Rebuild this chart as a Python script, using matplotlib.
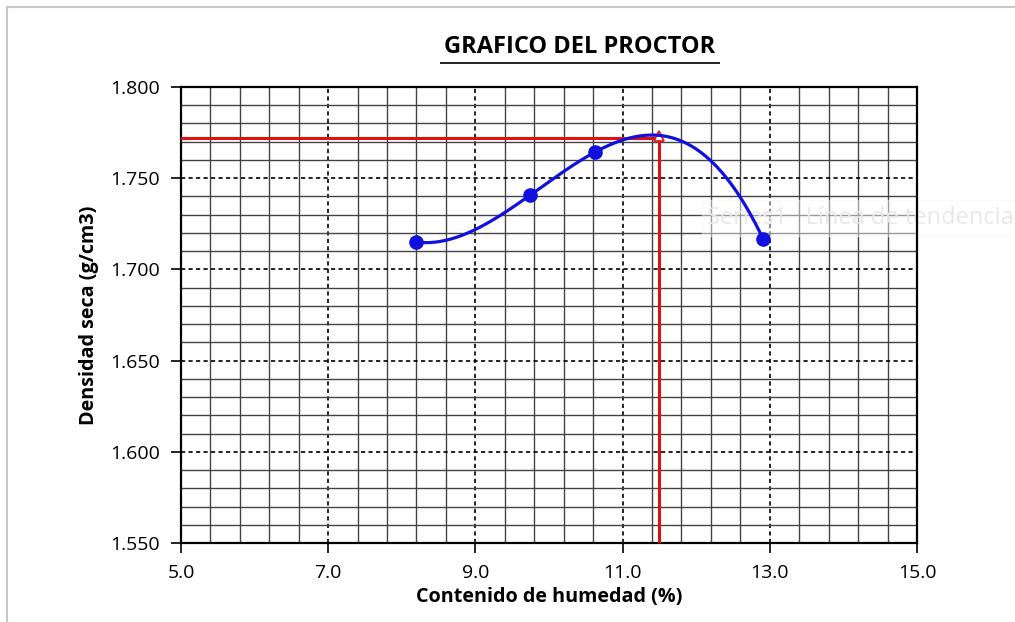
import numpy as np
import matplotlib.pyplot as plt
from matplotlib.ticker import MultipleLocator, FormatStrFormatter

# ensayo proctor: humedad (%) vs densidad seca (g/cm3)
humedad = [8.2, 9.74, 10.62, 12.91]
densidad = [1.715, 1.7406, 1.7642, 1.7167]

# optimo
w_optimo = 11.5
d_maxima = 1.772

plt.rcParams['font.family'] = ['Open Sans', 'DejaVu Sans']

fig = plt.figure(figsize=(10.15, 6.22), dpi=100)
ax = fig.add_axes([0.1783, 0.127, 0.7251, 0.7331])

# linea de tendencia polinomica de orden 3
coef = np.polyfit(humedad, densidad, 3)
xs = np.linspace(min(humedad), max(humedad), 200)
ax.plot(xs, np.polyval(coef, xs), color='#1010e0', lw=2.3, zorder=4)
ax.plot(humedad, densidad, 'o', color='#1010e0', ms=9.5, zorder=5)

# lineas del optimo
ax.plot([5.0, w_optimo], [d_maxima, d_maxima], color='#e01010', lw=2.2, zorder=3)
ax.plot([w_optimo, w_optimo], [1.55, d_maxima], color='#e01010', lw=2.2, zorder=3)
ax.plot(w_optimo, d_maxima + 0.0012, marker='^', ms=7, mfc='white', mec='#e01010', mew=1.2, zorder=3)

ax.set_xlim(5.0, 15.0)
ax.set_ylim(1.55, 1.80)
ax.xaxis.set_major_locator(MultipleLocator(2.0, offset=1.0))
ax.xaxis.set_minor_locator(MultipleLocator(0.4, offset=0.2))
ax.yaxis.set_major_locator(MultipleLocator(0.05))
ax.yaxis.set_minor_locator(MultipleLocator(0.01))
ax.xaxis.set_major_formatter(FormatStrFormatter('%.1f'))
ax.yaxis.set_major_formatter(FormatStrFormatter('%.3f'))

ax.grid(which='minor', color='#444444', lw=1.0, ls='-')
ax.grid(which='major', color='black', lw=1.2, ls=(0, (2.5, 2)))
ax.set_axisbelow(True)
ax.tick_params(which='major', direction='out', length=7, width=1.2, labelsize=14, pad=8)
ax.tick_params(which='minor', length=0)
for s in ax.spines.values():
    s.set_linewidth(1.6)

ax.set_xlabel('Contenido de humedad (%)', fontsize=14.2, fontweight='bold', labelpad=4)
ax.set_ylabel('Densidad seca (g/cm3)', fontsize=14.2, fontweight='bold', labelpad=8)

fig.text(0.5714, 0.924, 'GRAFICO DEL PROCTOR', fontsize=17, fontweight='bold',
         ha='center', va='center')
fig.add_artist(plt.Line2D([0.434, 0.708], [0.899, 0.899], color='#222222', lw=1.4))

# leyenda fantasma, por debajo de las curvas (cortada por el borde derecho)
ax.text(0.715, 0.713, 'Series1   Línea de tendencia', transform=ax.transAxes,
        fontsize=17, color='#e8e8e8', va='center', ha='left', zorder=2, clip_on=False,
        bbox=dict(facecolor='white', edgecolor='#f6f6f6', alpha=0.45, pad=4))

# marco del grafico
fig.add_artist(plt.Line2D([0.007, 0.007], [0.0, 0.988], color='#c8c8c8', lw=1.5))
fig.add_artist(plt.Line2D([0.007, 1.0], [0.988, 0.988], color='#c8c8c8', lw=1.5))

fig.savefig('out.png', dpi=100)
